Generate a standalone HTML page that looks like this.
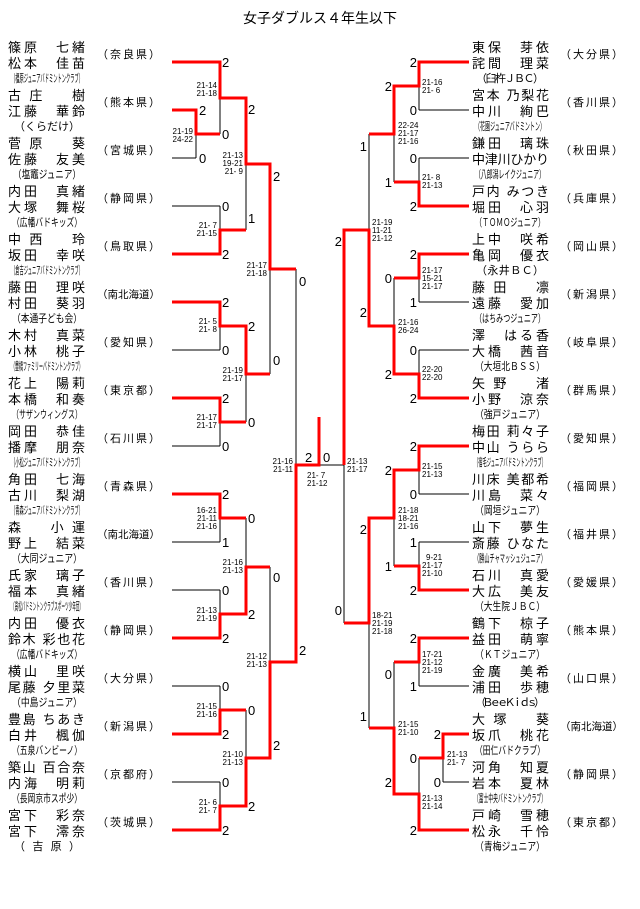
<!DOCTYPE html>
<html><head><meta charset="utf-8"><style>
body{margin:0;background:#fff}
svg{display:block}
.n{font-family:"Liberation Sans","Noto Sans CJK JP",sans-serif;font-size:13px;fill:#000}
.c{font-family:"Liberation Sans","Noto Sans CJK JP",sans-serif;font-size:11px;fill:#000}
.p{font-family:"Liberation Sans","Noto Sans CJK JP",sans-serif;font-size:11px;fill:#000}
.p6{font-size:10.5px}
.d{font-family:"Liberation Sans",sans-serif;font-size:13px;fill:#000}
.s{font-family:"Liberation Sans",sans-serif;font-size:8px;fill:#000}
.r{text-anchor:end}
.k{stroke:#000;stroke-width:1;fill:none}
.red{stroke:#f00;stroke-width:3;fill:none}
</style></head><body>
<svg width="640" height="909" xmlns="http://www.w3.org/2000/svg">
<text x="320" y="23" text-anchor="middle" style="font-family:'Liberation Sans','Noto Sans CJK JP',sans-serif;font-size:14px">女子ダブルス４年生以下</text>

<!-- LEFT NAMES -->
<g class="n">
<text x="8" y="52" textLength="77" lengthAdjust="spacing">篠原　七緒</text><text x="8" y="68" textLength="77" lengthAdjust="spacing">松本　佳苗</text>
<text x="8" y="100" textLength="77" lengthAdjust="spacing">古庄　樹</text><text x="8" y="116" textLength="77" lengthAdjust="spacing">江藤　華鈴</text>
<text x="8" y="148" textLength="77" lengthAdjust="spacing">菅原　葵</text><text x="8" y="164" textLength="77" lengthAdjust="spacing">佐藤　友美</text>
<text x="8" y="196" textLength="77" lengthAdjust="spacing">内田　真緒</text><text x="8" y="212" textLength="77" lengthAdjust="spacing">大塚　舞桜</text>
<text x="8" y="244" textLength="77" lengthAdjust="spacing">中西　玲</text><text x="8" y="260" textLength="77" lengthAdjust="spacing">坂田　幸咲</text>
<text x="8" y="292" textLength="77" lengthAdjust="spacing">藤田　理咲</text><text x="8" y="308" textLength="77" lengthAdjust="spacing">村田　葵羽</text>
<text x="8" y="340" textLength="77" lengthAdjust="spacing">木村　真菜</text><text x="8" y="356" textLength="77" lengthAdjust="spacing">小林　桃子</text>
<text x="8" y="388" textLength="77" lengthAdjust="spacing">花上　陽莉</text><text x="8" y="404" textLength="77" lengthAdjust="spacing">本橋　和奏</text>
<text x="8" y="436" textLength="77" lengthAdjust="spacing">岡田　恭佳</text><text x="8" y="452" textLength="77" lengthAdjust="spacing">播摩　朋奈</text>
<text x="8" y="484" textLength="77" lengthAdjust="spacing">角田　七海</text><text x="8" y="500" textLength="77" lengthAdjust="spacing">古川　梨湖</text>
<text x="8" y="532" textLength="77" lengthAdjust="spacing">森　小運</text><text x="8" y="548" textLength="77" lengthAdjust="spacing">野上　結菜</text>
<text x="8" y="580" textLength="77" lengthAdjust="spacing">氏家　璃子</text><text x="8" y="596" textLength="77" lengthAdjust="spacing">福本　真緒</text>
<text x="8" y="628" textLength="77" lengthAdjust="spacing">内田　優衣</text><text x="8" y="644" textLength="77" lengthAdjust="spacing">鈴木 彩也花</text>
<text x="8" y="676" textLength="77" lengthAdjust="spacing">横山　里咲</text><text x="8" y="692" textLength="77" lengthAdjust="spacing">尾藤 夕里菜</text>
<text x="8" y="724" textLength="77" lengthAdjust="spacing">豊島 ちあき</text><text x="8" y="740" textLength="77" lengthAdjust="spacing">白井　楓伽</text>
<text x="8" y="772" textLength="77" lengthAdjust="spacing">築山 百合奈</text><text x="8" y="788" textLength="77" lengthAdjust="spacing">内海　明莉</text>
<text x="8" y="820" textLength="77" lengthAdjust="spacing">宮下　彩奈</text><text x="8" y="836" textLength="77" lengthAdjust="spacing">宮下　澪奈</text>
</g>
<g class="c">
<text x="11" y="82" textLength="72" lengthAdjust="spacingAndGlyphs">（橿原ジュニアバドミントンクラブ）</text>
<text x="14" y="130" textLength="66" lengthAdjust="spacing">（くらだけ）</text>
<text x="13" y="178" textLength="68" lengthAdjust="spacingAndGlyphs">（塩竈ジュニア）</text>
<text x="12" y="226" textLength="70" lengthAdjust="spacingAndGlyphs">（広幡バドキッズ）</text>
<text x="11" y="274" textLength="72" lengthAdjust="spacingAndGlyphs">（倉吉ジュニアバドミントンクラブ）</text>
<text x="12" y="322" textLength="70" lengthAdjust="spacingAndGlyphs">（本通子ども会）</text>
<text x="11" y="370" textLength="72" lengthAdjust="spacingAndGlyphs">（豊橋ファミリーバドミントンクラブ）</text>
<text x="12" y="418" textLength="70" lengthAdjust="spacingAndGlyphs">（サザンウィングス）</text>
<text x="11" y="466" textLength="72" lengthAdjust="spacingAndGlyphs">（小松ジュニアバドミントンクラブ）</text>
<text x="11" y="514" textLength="72" lengthAdjust="spacingAndGlyphs">（青森ジュニアバドミントンクラブ）</text>
<text x="12" y="562" textLength="70" lengthAdjust="spacingAndGlyphs">（大同ジュニア）</text>
<text x="11" y="610" textLength="72" lengthAdjust="spacingAndGlyphs">（高松バドミントンクラブスポーツ少年団）</text>
<text x="12" y="658" textLength="70" lengthAdjust="spacingAndGlyphs">（広幡バドキッズ）</text>
<text x="12" y="706" textLength="70" lengthAdjust="spacingAndGlyphs">（中島ジュニア）</text>
<text x="12" y="754" textLength="70" lengthAdjust="spacingAndGlyphs">（五泉バンビーノ）</text>
<text x="12" y="802" textLength="70" lengthAdjust="spacingAndGlyphs">（長岡京市スポ少）</text>
<text x="14" y="850" textLength="66" lengthAdjust="spacing">（　吉　原　）</text>
</g>
<g class="p">
<text x="97" y="58" textLength="63" lengthAdjust="spacing">（奈良県）</text>
<text x="97" y="106" textLength="63" lengthAdjust="spacing">（熊本県）</text>
<text x="97" y="154" textLength="63" lengthAdjust="spacing">（宮城県）</text>
<text x="97" y="202" textLength="63" lengthAdjust="spacing">（静岡県）</text>
<text x="97" y="250" textLength="63" lengthAdjust="spacing">（鳥取県）</text>
<text x="97" y="298" textLength="63" lengthAdjust="spacingAndGlyphs" class="p6">（南北海道）</text>
<text x="97" y="346" textLength="63" lengthAdjust="spacing">（愛知県）</text>
<text x="97" y="394" textLength="63" lengthAdjust="spacing">（東京都）</text>
<text x="97" y="442" textLength="63" lengthAdjust="spacing">（石川県）</text>
<text x="97" y="490" textLength="63" lengthAdjust="spacing">（青森県）</text>
<text x="97" y="538" textLength="63" lengthAdjust="spacingAndGlyphs" class="p6">（南北海道）</text>
<text x="97" y="586" textLength="63" lengthAdjust="spacing">（香川県）</text>
<text x="97" y="634" textLength="63" lengthAdjust="spacing">（静岡県）</text>
<text x="97" y="682" textLength="63" lengthAdjust="spacing">（大分県）</text>
<text x="97" y="730" textLength="63" lengthAdjust="spacing">（新潟県）</text>
<text x="97" y="778" textLength="63" lengthAdjust="spacing">（京都府）</text>
<text x="97" y="826" textLength="63" lengthAdjust="spacing">（茨城県）</text>
</g>

<!-- RIGHT NAMES -->
<g class="n">
<text x="472" y="52" textLength="77" lengthAdjust="spacing">東保　芽依</text><text x="472" y="68" textLength="77" lengthAdjust="spacing">詫間　理菜</text>
<text x="472" y="100" textLength="77" lengthAdjust="spacing">宮本 乃梨花</text><text x="472" y="116" textLength="77" lengthAdjust="spacing">中川　絢巴</text>
<text x="472" y="148" textLength="77" lengthAdjust="spacing">鎌田　璃珠</text><text x="472" y="164" textLength="77" lengthAdjust="spacing">中津川ひかり</text>
<text x="472" y="196" textLength="77" lengthAdjust="spacing">戸内 みつき</text><text x="472" y="212" textLength="77" lengthAdjust="spacing">堀田　心羽</text>
<text x="472" y="244" textLength="77" lengthAdjust="spacing">上中　咲希</text><text x="472" y="260" textLength="77" lengthAdjust="spacing">亀岡　優衣</text>
<text x="472" y="292" textLength="77" lengthAdjust="spacing">藤田　凛</text><text x="472" y="308" textLength="77" lengthAdjust="spacing">遠藤　愛加</text>
<text x="472" y="340" textLength="77" lengthAdjust="spacing">澤　はる香</text><text x="472" y="356" textLength="77" lengthAdjust="spacing">大橋　茜音</text>
<text x="472" y="388" textLength="77" lengthAdjust="spacing">矢野　渚</text><text x="472" y="404" textLength="77" lengthAdjust="spacing">小野　涼奈</text>
<text x="472" y="436" textLength="77" lengthAdjust="spacing">梅田 莉々子</text><text x="472" y="452" textLength="77" lengthAdjust="spacing">中山 うらら</text>
<text x="472" y="484" textLength="77" lengthAdjust="spacing">川床 美都希</text><text x="472" y="500" textLength="77" lengthAdjust="spacing">川島　菜々</text>
<text x="472" y="532" textLength="77" lengthAdjust="spacing">山下　夢生</text><text x="472" y="548" textLength="77" lengthAdjust="spacing">斎藤 ひなた</text>
<text x="472" y="580" textLength="77" lengthAdjust="spacing">石川　真愛</text><text x="472" y="596" textLength="77" lengthAdjust="spacing">大広　美友</text>
<text x="472" y="628" textLength="77" lengthAdjust="spacing">鶴下　椋子</text><text x="472" y="644" textLength="77" lengthAdjust="spacing">益田　萌寧</text>
<text x="472" y="676" textLength="77" lengthAdjust="spacing">金廣　美希</text><text x="472" y="692" textLength="77" lengthAdjust="spacing">浦田　歩穂</text>
<text x="472" y="724" textLength="77" lengthAdjust="spacing">大塚　葵</text><text x="472" y="740" textLength="77" lengthAdjust="spacing">坂爪　桃花</text>
<text x="472" y="772" textLength="77" lengthAdjust="spacing">河角　知夏</text><text x="472" y="788" textLength="77" lengthAdjust="spacing">岩本　夏林</text>
<text x="472" y="820" textLength="77" lengthAdjust="spacing">戸崎　雪穂</text><text x="472" y="836" textLength="77" lengthAdjust="spacing">松永　千怜</text>
</g>
<g class="c">
<text x="476" y="82" textLength="68" lengthAdjust="spacing">（臼杵ＪＢＣ）</text>
<text x="475" y="130" textLength="70" lengthAdjust="spacingAndGlyphs">（花園ジュニアバドミントン）</text>
<text x="475" y="178" textLength="70" lengthAdjust="spacingAndGlyphs">（八郎潟レイクジュニア）</text>
<text x="475" y="226" textLength="70" lengthAdjust="spacingAndGlyphs">（ＴＯＭＯジュニア）</text>
<text x="476" y="274" textLength="68" lengthAdjust="spacing">（永井ＢＣ）</text>
<text x="475" y="322" textLength="70" lengthAdjust="spacingAndGlyphs">（はちみつジュニア）</text>
<text x="475" y="370" textLength="70" lengthAdjust="spacingAndGlyphs">（大垣北ＢＳＳ）</text>
<text x="475" y="418" textLength="70" lengthAdjust="spacingAndGlyphs">（強戸ジュニア）</text>
<text x="474" y="466" textLength="72" lengthAdjust="spacingAndGlyphs">（宿毛ジュニアバドミントンクラブ）</text>
<text x="475" y="514" textLength="70" lengthAdjust="spacingAndGlyphs">（岡垣ジュニア）</text>
<text x="474" y="562" textLength="72" lengthAdjust="spacingAndGlyphs">（勝山チャマッシュジュニア）</text>
<text x="475" y="610" textLength="70" lengthAdjust="spacingAndGlyphs">（大生院ＪＢＣ）</text>
<text x="475" y="658" textLength="70" lengthAdjust="spacingAndGlyphs">（ＫＴジュニア）</text>
<text x="475" y="706" textLength="70" lengthAdjust="spacing">（ＢｅｅＫｉｄｓ）</text>
<text x="475" y="754" textLength="70" lengthAdjust="spacingAndGlyphs">（田仁バドクラブ）</text>
<text x="474" y="802" textLength="72" lengthAdjust="spacingAndGlyphs">（富士中央バドミントンクラブ）</text>
<text x="475" y="850" textLength="70" lengthAdjust="spacingAndGlyphs">（青梅ジュニア）</text>
</g>
<g class="p">
<text x="560" y="58" textLength="63" lengthAdjust="spacing">（大分県）</text>
<text x="560" y="106" textLength="63" lengthAdjust="spacing">（香川県）</text>
<text x="560" y="154" textLength="63" lengthAdjust="spacing">（秋田県）</text>
<text x="560" y="202" textLength="63" lengthAdjust="spacing">（兵庫県）</text>
<text x="560" y="250" textLength="63" lengthAdjust="spacing">（岡山県）</text>
<text x="560" y="298" textLength="63" lengthAdjust="spacing">（新潟県）</text>
<text x="560" y="346" textLength="63" lengthAdjust="spacing">（岐阜県）</text>
<text x="560" y="394" textLength="63" lengthAdjust="spacing">（群馬県）</text>
<text x="560" y="442" textLength="63" lengthAdjust="spacing">（愛知県）</text>
<text x="560" y="490" textLength="63" lengthAdjust="spacing">（福岡県）</text>
<text x="560" y="538" textLength="63" lengthAdjust="spacing">（福井県）</text>
<text x="560" y="586" textLength="63" lengthAdjust="spacing">（愛媛県）</text>
<text x="560" y="634" textLength="63" lengthAdjust="spacing">（熊本県）</text>
<text x="560" y="682" textLength="63" lengthAdjust="spacing">（山口県）</text>
<text x="560" y="730" textLength="63" lengthAdjust="spacingAndGlyphs" class="p6">（南北海道）</text>
<text x="560" y="778" textLength="63" lengthAdjust="spacing">（静岡県）</text>
<text x="560" y="826" textLength="63" lengthAdjust="spacing">（東京都）</text>
</g>

<!-- BLACK LINES -->
<g class="k">
<path d="M172 158H196M172 206H220M172 350H220M172 446H220M172 542H220M172 590H220M172 686H220M172 782H220"/>
<path d="M196 110V158M220 62V134M220 206V254M246 98V230M220 302V350M220 398V446M246 326V422M270 164V374M296 269V662M220 494V542M220 590V638M246 518V614M220 686V734M220 782V830M246 710V806M270 567V758"/>
<path d="M319 465H344"/>
<path d="M419 110H469M419 158H469M419 302H469M419 350H469M419 494H469M419 542H469M419 686H469M443 782H469"/>
<path d="M419 62V110M419 158V206M419 254V302M419 350V398M419 446V494M419 542V590M419 638V686M419 758V830M443 734V782M394 86V182M394 278V374M394 470V566M394 662V794M369 134V326M369 518V728M344 230V623"/>
</g>

<!-- RED LINES -->
<g class="red">
<polyline points="172,110 196,110 196,134 220,134"/>
<polyline points="172,62 220,62 220,98 246,98 246,164 270,164 270,269 296,269"/>
<polyline points="172,254 220,254 220,230 246,230"/>
<polyline points="172,302 220,302 220,326 246,326 246,374 270,374"/>
<polyline points="172,398 220,398 220,422 246,422"/>
<polyline points="172,494 220,494 220,518 246,518"/>
<polyline points="172,638 220,638 220,614 246,614 246,567 270,567"/>
<polyline points="172,734 220,734 220,710 246,710"/>
<polyline points="172,830 220,830 220,806 246,806 246,758 270,758 270,662 296,662 296,465 319,465 319,417"/>
<polyline points="469,62 419,62 419,86 394,86 394,134 369,134"/>
<polyline points="469,206 419,206 419,182 394,182"/>
<polyline points="469,254 419,254 419,278 394,278"/>
<polyline points="469,398 419,398 419,374 394,374 394,326 369,326 369,230 344,230 344,465"/>
<polyline points="469,446 419,446 419,470 394,470 394,518 369,518 369,623 344,623"/>
<polyline points="469,590 419,590 419,566 394,566"/>
<polyline points="469,638 419,638 419,662 394,662"/>
<polyline points="469,734 443,734 443,758 419,758"/>
<polyline points="469,830 419,830 419,794 394,794 394,728 369,728"/>
</g>

<!-- GAME SCORES LEFT -->
<g class="d">
<text x="199" y="115">2</text><text x="199" y="163">0</text>
<text x="222" y="67">2</text><text x="222" y="139">0</text>
<text x="222" y="211">0</text><text x="222" y="259">2</text>
<text x="248" y="114">2</text><text x="248" y="223">1</text>
<text x="273" y="181">2</text><text x="273" y="365">0</text>
<text x="222" y="307">2</text><text x="222" y="355">0</text>
<text x="222" y="403">2</text><text x="222" y="451">0</text>
<text x="248" y="331">2</text><text x="248" y="427">0</text>
<text x="299" y="286">0</text>
<text x="222" y="499">2</text><text x="222" y="547">1</text>
<text x="222" y="595">0</text><text x="222" y="643">2</text>
<text x="248" y="523">0</text><text x="248" y="619">2</text>
<text x="273" y="582">0</text><text x="273" y="750">2</text>
<text x="222" y="691">0</text><text x="222" y="739">2</text>
<text x="222" y="787">0</text><text x="222" y="835">2</text>
<text x="248" y="715">0</text><text x="248" y="811">2</text>
<text x="299" y="655">2</text>
<text x="305" y="462">2</text><text x="323" y="462">0</text>
</g>
<g class="d r">
<text x="417" y="67">2</text><text x="417" y="115">0</text>
<text x="417" y="163">0</text><text x="417" y="211">2</text>
<text x="392" y="91">2</text><text x="392" y="187">1</text>
<text x="367" y="151">1</text><text x="367" y="317">2</text>
<text x="417" y="259">2</text><text x="417" y="307">1</text>
<text x="417" y="355">0</text><text x="417" y="403">2</text>
<text x="392" y="283">0</text><text x="392" y="379">2</text>
<text x="342" y="246">2</text><text x="342" y="615">0</text>
<text x="417" y="451">2</text><text x="417" y="499">0</text>
<text x="417" y="547">1</text><text x="417" y="595">2</text>
<text x="392" y="475">2</text><text x="392" y="571">1</text>
<text x="367" y="534">2</text><text x="367" y="721">1</text>
<text x="417" y="643">2</text><text x="417" y="691">1</text>
<text x="392" y="679">0</text><text x="392" y="787">2</text>
<text x="441" y="739">2</text><text x="441" y="787">0</text>
<text x="417" y="763">0</text><text x="417" y="835">2</text>
</g>

<!-- SET SCORES -->
<g class="s r">
<text x="193" y="134">21-19</text><text x="193" y="142">24-22</text>
<text x="217" y="88">21-14</text><text x="217" y="96">21-18</text>
<text x="217" y="228">21- 7</text><text x="217" y="236">21-15</text>
<text x="243" y="158">21-13</text><text x="243" y="166">19-21</text><text x="243" y="174">21- 9</text>
<text x="267" y="268">21-17</text><text x="267" y="276">21-18</text>
<text x="217" y="324">21- 5</text><text x="217" y="332">21- 8</text>
<text x="217" y="420">21-17</text><text x="217" y="428">21-17</text>
<text x="243" y="373">21-19</text><text x="243" y="381">21-17</text>
<text x="293" y="464">21-16</text><text x="293" y="472">21-11</text>
<text x="217" y="513">16-21</text><text x="217" y="521">21-11</text><text x="217" y="529">21-16</text>
<text x="217" y="613">21-13</text><text x="217" y="621">21-19</text>
<text x="243" y="565">21-16</text><text x="243" y="573">21-13</text>
<text x="217" y="709">21-15</text><text x="217" y="717">21-16</text>
<text x="217" y="805">21- 6</text><text x="217" y="813">21- 7</text>
<text x="243" y="757">21-10</text><text x="243" y="765">21-13</text>
<text x="267" y="659">21-12</text><text x="267" y="667">21-13</text>
</g>
<g class="s">
<text x="307" y="478">21- 7</text><text x="307" y="486">21-12</text>
<text x="347" y="464">21-13</text><text x="347" y="472">21-17</text>
<text x="372" y="225">21-19</text><text x="372" y="233">11-21</text><text x="372" y="241">21-12</text>
<text x="398" y="128">22-24</text><text x="398" y="136">21-17</text><text x="398" y="144">21-16</text>
<text x="422" y="85">21-16</text><text x="422" y="93">21- 6</text>
<text x="422" y="180">21- 8</text><text x="422" y="188">21-13</text>
<text x="422" y="273">21-17</text><text x="422" y="281">15-21</text><text x="422" y="289">21-17</text>
<text x="422" y="372">22-20</text><text x="422" y="380">22-20</text>
<text x="398" y="325">21-16</text><text x="398" y="333">26-24</text>
<text x="422" y="469">21-15</text><text x="422" y="477">21-13</text>
<text x="426" y="560">9-21</text><text x="422" y="568">21-17</text><text x="422" y="576">21-10</text>
<text x="398" y="513">21-18</text><text x="398" y="521">18-21</text><text x="398" y="529">21-16</text>
<text x="372" y="618">18-21</text><text x="372" y="626">21-19</text><text x="372" y="634">21-18</text>
<text x="422" y="657">17-21</text><text x="422" y="665">21-12</text><text x="422" y="673">21-19</text>
<text x="398" y="727">21-15</text><text x="398" y="735">21-10</text>
<text x="447" y="757">21-13</text><text x="447" y="765">21- 7</text>
<text x="422" y="801">21-13</text><text x="422" y="809">21-14</text>
</g>
</svg>
</body></html>
